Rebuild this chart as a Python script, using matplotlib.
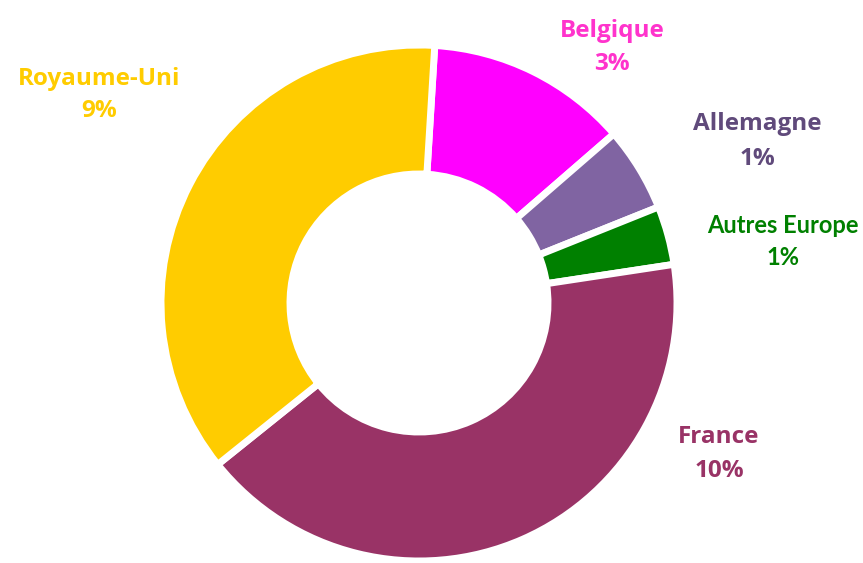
import matplotlib
matplotlib.use("Agg")
import matplotlib.pyplot as plt

# Données (ordre horaire depuis le haut)
pays = ["Belgique", "Allemagne", "Autres Europe", "France", "Royaume-Uni"]
valeurs = [3.1, 1.3, 0.9, 10.2, 9.0]
etiquettes_pct = ["3%", "1%", "1%", "10%", "9%"]

couleurs = ["#FF00FF", "#8064A2", "#008000", "#993366", "#FFCC00"]
couleurs_texte = ["#FF33CC", "#604A7B", "#008000", "#993366", "#FFCC00"]

# positions des étiquettes en pixels (x centre, ligne de base nom, ligne de base %)
pos_etiquettes = [
    (612, 37, 70),
    (757, 130, 165),
    (783, 233, 265),
    (719, 443, 477),
    (99, 85, 117),
]
polices = ["Open Sans", "Open Sans", "Lato", "Open Sans", "Open Sans"]
tailles = [17.5, 17.5, 17, 17.5, 17.5]

W, H = 863, 563
fig = plt.figure(figsize=(W / 100, H / 100), dpi=100)
ax = fig.add_axes([0, 0, 1, 1])

ax.pie(
    valeurs,
    colors=couleurs,
    startangle=86.5,
    counterclock=False,
    center=(419, H - 303),
    radius=258,
    wedgeprops=dict(width=129, edgecolor="white", linewidth=5),
    frame=True,
)
ax.set_xlim(0, W)
ax.set_ylim(0, H)
ax.set_aspect("equal")
ax.axis("off")

for nom, pct, c, (x, y1, y2), fam, fs in zip(pays, etiquettes_pct, couleurs_texte,
                                            pos_etiquettes, polices, tailles):
    ax.text(x, H - y1, nom, color=c, fontsize=fs, fontweight="bold",
            family=fam, ha="center", va="baseline")
    ax.text(x, H - y2, pct, color=c, fontsize=fs, fontweight="bold",
            family=fam, ha="center", va="baseline")

fig.savefig("out.png", dpi=100)
